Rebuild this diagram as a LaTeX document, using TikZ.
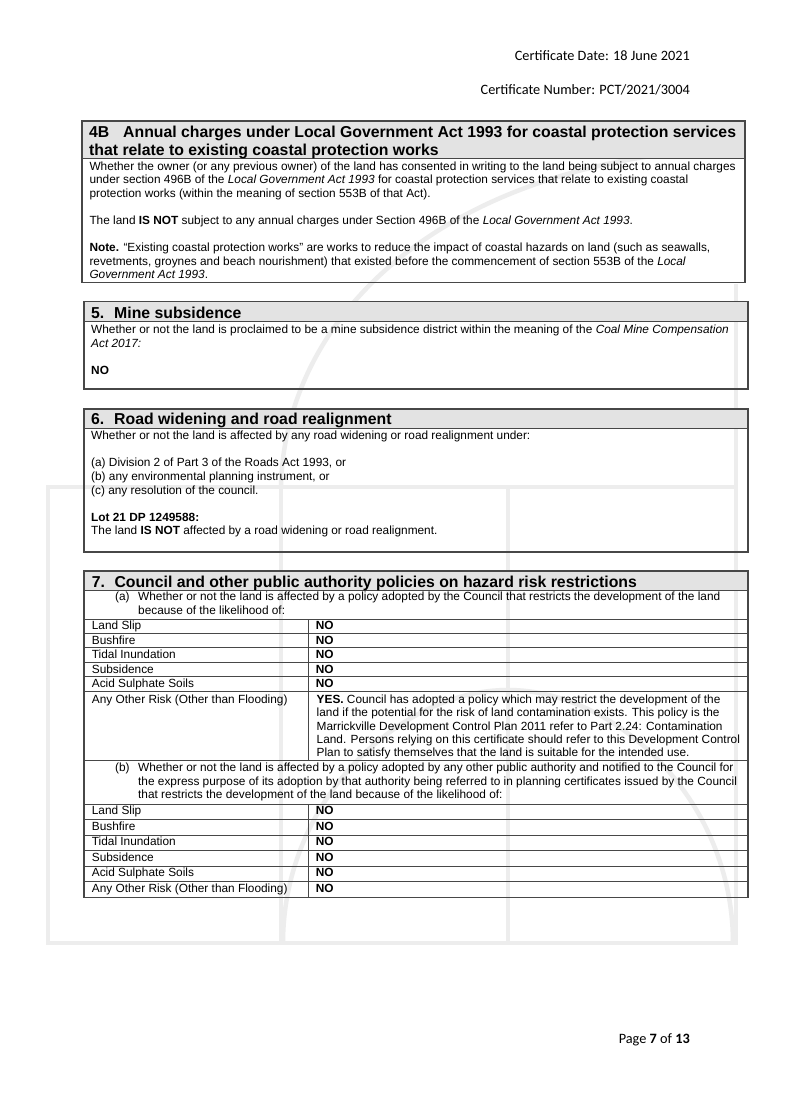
\documentclass[tikz,border=0pt]{standalone}
\usepackage{fontspec}
\setmainfont{Liberation Sans}
\newfontfamily\carlito{Carlito}
\tikzset{
  x=1pt,y=-1pt,
  txt/.style={inner sep=0pt,anchor=base west,font=\fontsize{11.85}{13.6}\selectfont},
  ttl/.style={inner sep=0pt,anchor=base west,font=\fontsize{15.8}{18}\selectfont\bfseries},
  hdtxt/.style={inner sep=0pt,anchor=base east,font=\carlito\fontsize{14.3}{17}\selectfont},
  boxline/.style={draw=black!72,line width=1.2pt},
  rule/.style={draw=black!72,line width=1pt},
  hdr/.style={fill=black!11},
  wm/.style={draw=black!7,line width=4.5pt}
}
\newcommand\Tline[4]{\node[txt] (#1) at (#2,#3) {#4};}
\begin{document}
\begin{tikzpicture}
\useasboundingbox[fill=white] (0,0) rectangle (785,1109);
% ---------- watermark ----------
\draw[wm] (48,487) rectangle (736,943);
\draw[wm] (281,487) -- (281,943);
\draw[wm] (508,487) -- (508,943);
\draw[wm] (736,487) -- (736,284);
\draw[wm] (281,487) .. controls (284,330) and (420,175) .. (700,150);
\draw[wm] (283,943) .. controls (283,800) and (400,690) .. (508,690)
               .. controls (616,690) and (733,800) .. (733,943);
% ---------- header ----------
\node[hdtxt] (cdate) at (690,60) {Certificate Date: 18 June 2021};
\node[hdtxt] (cnum) at (690,94) {Certificate Number: PCT/2021/3004};
% ---------- 4B ----------
\fill[hdr] (82,121) rectangle (745,158.3);
\draw[boxline] (82,121) rectangle (745,282.3);
\draw[rule] (82,158.3) -- (745,158.3);
\node[ttl] (t4a) at (89,137.3) {4B};
\node[ttl] (t4b) at (123,137.3) {Annual charges under Local Government Act 1993 for coastal protection services};
\node[ttl] (t4c) at (89,155) {that relate to existing coastal protection works};
\Tline{b4a}{89.3}{170}{Whether the owner (or any previous owner) of the land has consented in writing to the land being subject to annual charges}
\Tline{b4b}{89.3}{183.7}{under section 496B of the \textit{Local Government Act 1993} for coastal protection services that relate to existing coastal}
\Tline{b4c}{89.3}{197.3}{protection works (within the meaning of section 553B of that Act).}
\Tline{b4d}{89.3}{224.5}{The land \textbf{IS NOT} subject to any annual charges under Section 496B of the \textit{Local Government Act 1993}.}
\Tline{b4e}{89.3}{251.5}{\textbf{Note.} “Existing coastal protection works” are works to reduce the impact of coastal hazards on land (such as seawalls,}
\Tline{b4f}{89.3}{265}{revetments, groynes and beach nourishment) that existed before the commencement of section 553B of the \textit{Local}}
\Tline{b4g}{89.3}{278.5}{\textit{Government Act 1993}.}
% ---------- 5 ----------
\fill[hdr] (84,301.7) rectangle (748,321.7);
\draw[boxline] (84,301.7) rectangle (748,389);
\draw[rule] (84,321.7) -- (748,321.7);
\node[ttl] (t5a) at (91,318.4) {5.};
\node[ttl] (t5b) at (114,318.4) {Mine subsidence};
\Tline{b5a}{91}{333.5}{Whether or not the land is proclaimed to be a mine subsidence district within the meaning of the \textit{Coal Mine Compensation}}
\Tline{b5b}{91}{347}{\textit{Act 2017:}}
\Tline{b5c}{91}{374.2}{\textbf{NO}}
% ---------- 6 ----------
\fill[hdr] (84,409) rectangle (748,428);
\draw[boxline] (84,409) rectangle (748,552);
\draw[rule] (84,428) -- (748,428);
\node[ttl] (t6a) at (91,424.7) {6.};
\node[ttl] (t6b) at (114,424.7) {Road widening and road realignment};
\Tline{b6a}{91}{439.7}{Whether or not the land is affected by any road widening or road realignment under:}
\Tline{b6b}{91}{466.9}{(a) Division 2 of Part 3 of the Roads Act 1993, or}
\Tline{b6c}{91}{480.5}{(b) any environmental planning instrument, or}
\Tline{b6d}{91}{494.1}{(c) any resolution of the council.}
\Tline{b6e}{91}{521.3}{\textbf{Lot 21 DP 1249588:}}
\Tline{b6f}{91}{534.9}{The land \textbf{IS NOT} affected by a road widening or road realignment.}
% ---------- 7 ----------
\fill[hdr] (84,571) rectangle (748,590.7);
\draw[boxline] (84,571) rectangle (748,897.3);
\draw[rule] (84,590.7) -- (748,590.7);
\node[ttl] (t7a) at (91.7,587.4) {7.};
\node[ttl] (t7b) at (114.3,587.4) {Council and other public authority policies on hazard risk restrictions};
\Tline{a7l}{115}{600.7}{(a)}
\Tline{a7a}{138}{600.7}{Whether or not the land is affected by a policy adopted by the Council that restricts the development of the land}
\Tline{a7b}{138}{614.3}{because of the likelihood of:}
\foreach \yy in {619,633.3,647.7,662.3,676.7,691,760,804,819.5,835,850.5,866,881.5}
  \draw[rule] (84,\yy) -- (748,\yy);
\draw[rule] (308,619) -- (308,760);
\draw[rule] (308,804) -- (308,897.3);
% (a) rows
\Tline{ra1}{91.7}{629.8}{Land Slip}            \Tline{va1}{315.7}{629.8}{\textbf{NO}}
\Tline{ra2}{91.7}{644.2}{Bushfire}             \Tline{va2}{315.7}{644.2}{\textbf{NO}}
\Tline{ra3}{91.7}{658.7}{Tidal Inundation}     \Tline{va3}{315.7}{658.7}{\textbf{NO}}
\Tline{ra4}{91.7}{673.1}{Subsidence}           \Tline{va4}{315.7}{673.1}{\textbf{NO}}
\Tline{ra5}{91.7}{687.4}{Acid Sulphate Soils}  \Tline{va5}{315.7}{687.4}{\textbf{NO}}
\Tline{ra6}{91.7}{703.3}{Any Other Risk (Other than Flooding)}
\Tline{y1}{316.5}{703.3}{\textbf{YES.} Council has adopted a policy which may restrict the development of the}
\Tline{y2}{316.5}{716.7}{land if the potential for the risk of land contamination exists. This policy is the}
\Tline{y3}{316.5}{730.1}{Marrickville Development Control Plan 2011 refer to Part 2.24: Contamination}
\Tline{y4}{316.5}{743.5}{Land. Persons relying on this certificate should refer to this Development Control}
\Tline{y5}{316.5}{756.9}{Plan to satisfy themselves that the land is suitable for the intended use.}
% (b)
\Tline{b7l}{115}{771.7}{(b)}
\Tline{b7a}{138}{771.7}{Whether or not the land is affected by a policy adopted by any other public authority and notified to the Council for}
\Tline{b7b}{138}{785.1}{the express purpose of its adoption by that authority being referred to in planning certificates issued by the Council}
\Tline{b7c}{138}{798.5}{that restricts the development of the land because of the likelihood of:}
\Tline{rb1}{91.7}{814.5}{Land Slip}            \Tline{vb1}{315.7}{814.5}{\textbf{NO}}
\Tline{rb2}{91.7}{830}{Bushfire}               \Tline{vb2}{315.7}{830}{\textbf{NO}}
\Tline{rb3}{91.7}{845.5}{Tidal Inundation}     \Tline{vb3}{315.7}{845.5}{\textbf{NO}}
\Tline{rb4}{91.7}{861}{Subsidence}             \Tline{vb4}{315.7}{861}{\textbf{NO}}
\Tline{rb5}{91.7}{876.5}{Acid Sulphate Soils}  \Tline{vb5}{315.7}{876.5}{\textbf{NO}}
\Tline{rb6}{91.7}{892.5}{Any Other Risk (Other than Flooding)} \Tline{vb6}{315.7}{892.5}{\textbf{NO}}
% ---------- footer ----------
\node[hdtxt] (pg) at (690,1043) {Page \textbf{7} of \textbf{13}};
\end{tikzpicture}
\end{document}
